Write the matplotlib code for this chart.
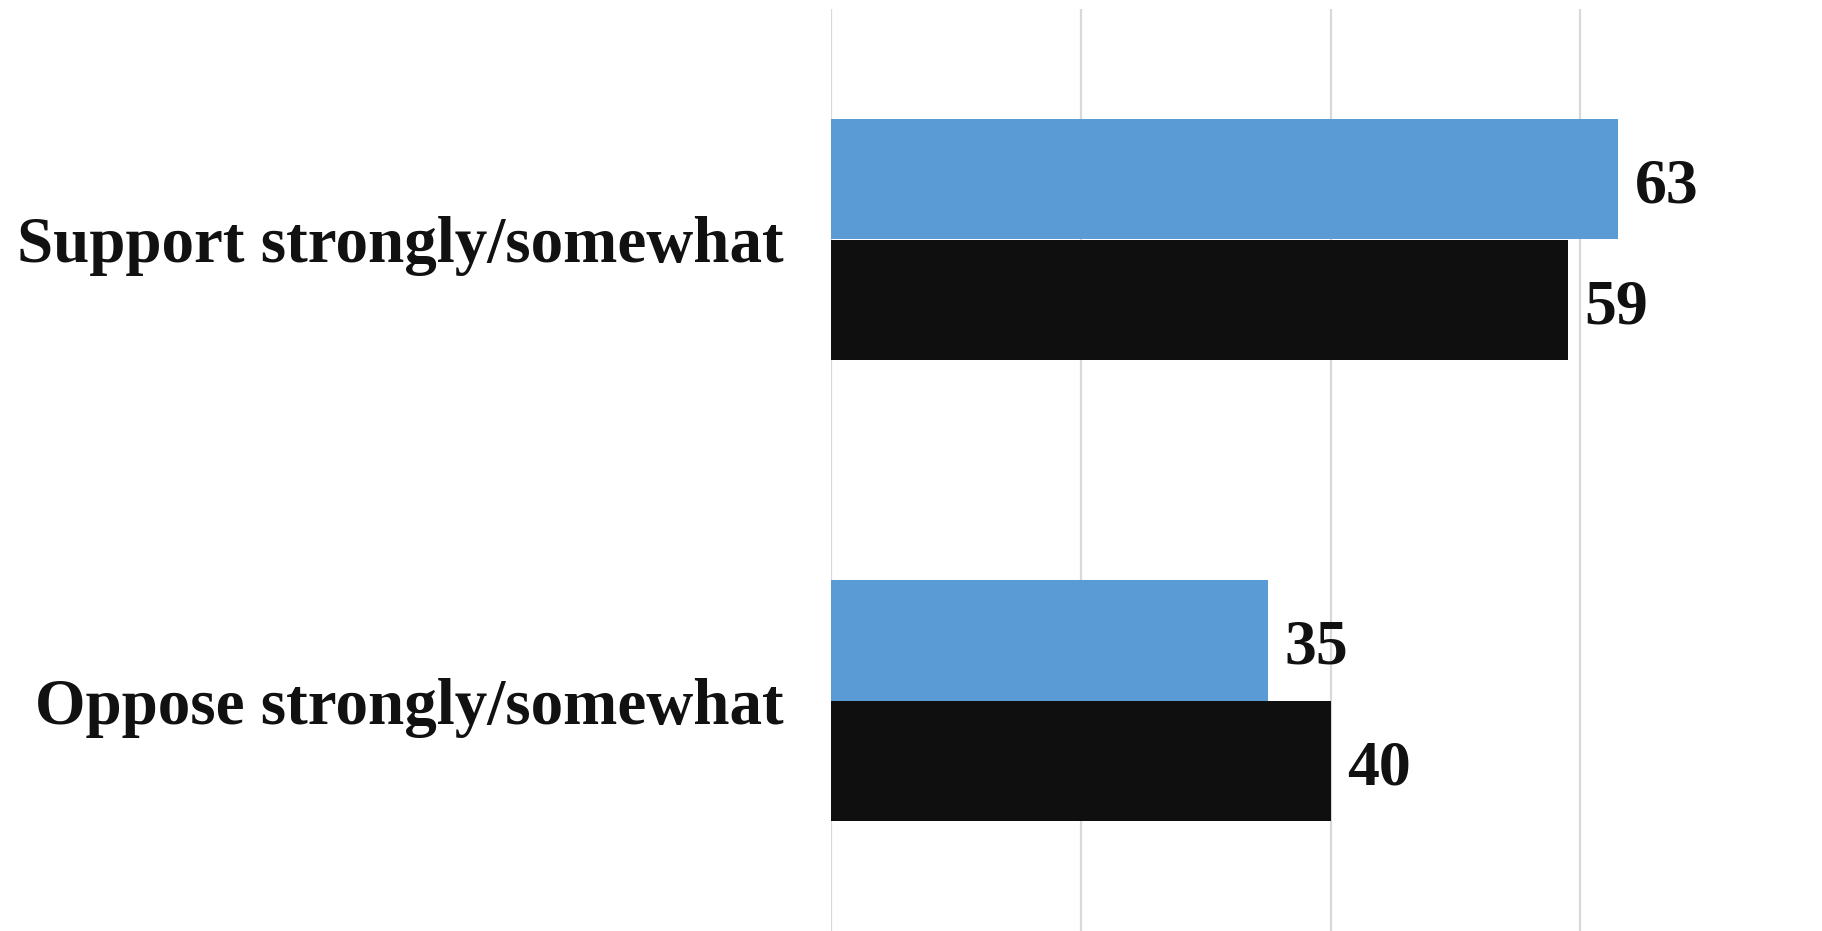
import matplotlib
matplotlib.use("Agg")
import matplotlib.pyplot as plt
import numpy as np

categories = ["Support strongly/somewhat", "Oppose strongly/somewhat"]
series_a = [63, 35]   # blue
series_b = [59, 40]   # black
colors = ["#5B9BD5", "#0F0F0F"]
grid_ticks = [0, 20, 40, 60]

W, H = 1822, 931
fig = plt.figure(figsize=(W / 100, H / 100), dpi=100)
ax = fig.add_axes([831 / W, 0, 1 - 831 / W, 1 - 9 / H])

y = np.arange(len(categories))
bh = 0.262
font = "Liberation Serif"

bars_a = ax.barh(y - bh / 2, series_a, height=bh, color=colors[0], zorder=3)
bars_b = ax.barh(y + bh / 2, series_b, height=bh, color=colors[1], zorder=3)

for bars, vals in ((bars_a, series_a), (bars_b, series_b)):
    for rect, v in zip(bars, vals):
        ax.annotate(str(v), (v, rect.get_y() + rect.get_height() / 2),
                    xytext=(12, -6), textcoords="offset points",
                    ha="left", va="center", fontsize=46, fontweight="bold",
                    family=font, color="#111111")

ax.set_xlim(0, (W - 831) / 12.49)
ax.set_ylim(1.5, -0.5)
ax.set_xticks(grid_ticks)
ax.xaxis.grid(True, color="#D9D9D9", linewidth=1.6, zorder=0)
ax.tick_params(axis="x", length=0, labelbottom=False)
ax.set_yticks(y)
ax.set_yticklabels(categories, fontsize=46.8, fontweight="bold", family=font,
                   color="#111111")
ax.tick_params(axis="y", length=0, pad=34)
for s in ax.spines.values():
    s.set_visible(False)

fig.savefig("out.png", dpi=100, facecolor="white")
